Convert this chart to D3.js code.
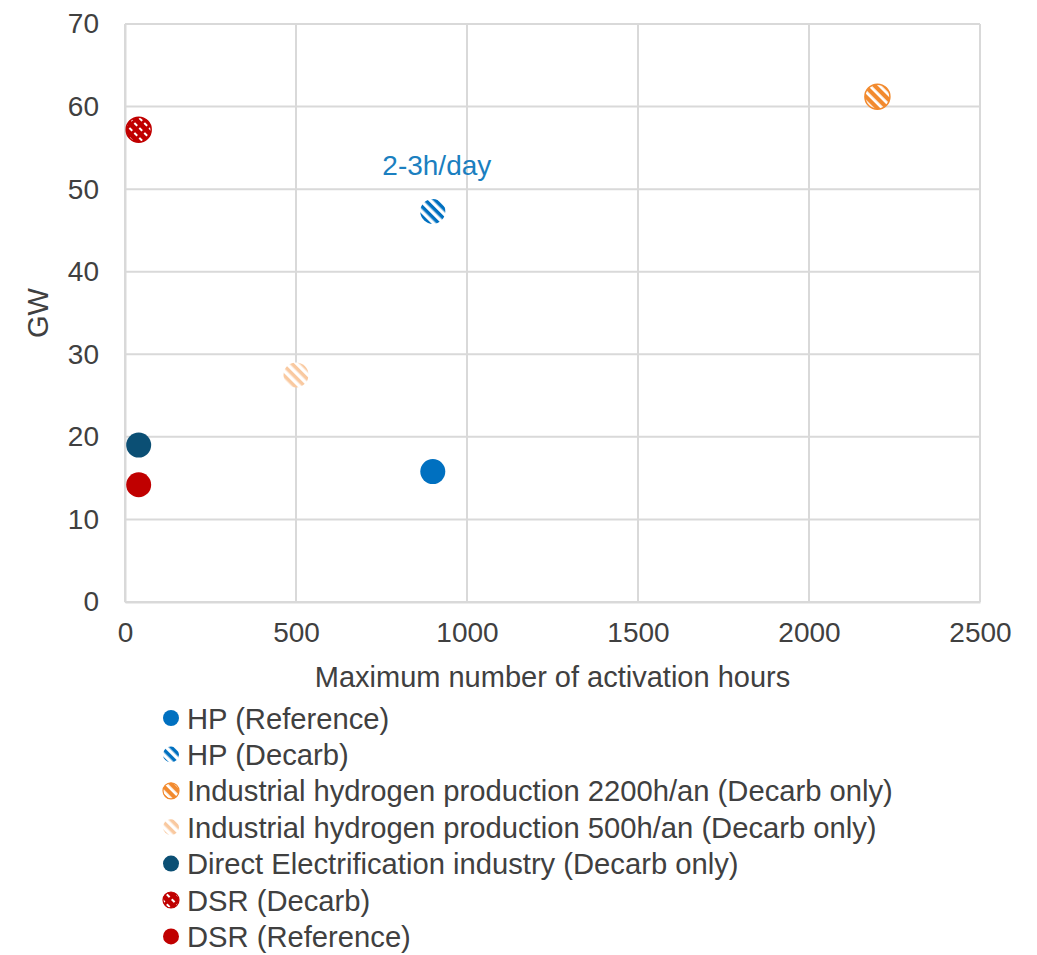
<!DOCTYPE html>
<html><head><meta charset="utf-8">
<script src="https://cdn.jsdelivr.net/npm/d3@7"></script>
<style>body{margin:0;background:#fff;} text{font-family:"Liberation Sans",Arial,sans-serif;}</style>
</head><body>
<svg id="chart" width="1037" height="955"></svg>
<script>
const seriesNames = ["HP (Reference)","HP (Decarb)","Industrial hydrogen production 2200h/an (Decarb only)","Industrial hydrogen production 500h/an (Decarb only)","Direct Electrification industry (Decarb only)","DSR (Decarb)","DSR (Reference)"];
const seriesHours = [900, 900, 2200, 500, 40, 40, 40];
const seriesGW = [15.8, 47.3, 61.2, 27.5, 19.0, 57.2, 14.2];
const seriesColors = ["#0070C0","#0070C0","#F28A2E","#F9C9A0","#0B4F74","#C00000","#C00000"];
const seriesPattern = ["solid","stripe","zig","stripe","solid","dash","solid"];
const xTicks = [0,500,1000,1500,2000,2500];
const yTicks = [0,10,20,30,40,50,60,70];
const annotation = {text:"2-3h/day", x:900, y:52.6};

const svg = d3.select("#chart");
const m = {l:125, r:980, t:24, b:602};
const x = d3.scaleLinear().domain([0,2500]).range([m.l,m.r]);
const y = d3.scaleLinear().domain([0,70]).range([m.b,m.t]);
const txt = "#404040";

// patterns
const defs = svg.append("defs");
seriesPattern.forEach((p,i)=>{
  if(p==="solid") return;
  const c = seriesColors[i];
  const pat = defs.append("pattern").attr("id","pat"+i).attr("patternUnits","userSpaceOnUse")
    .attr("width",7).attr("height",7).attr("patternTransform","rotate(-45)");
  pat.append("rect").attr("width",7).attr("height",7).attr("fill",c);
  if(p==="stripe"){
    pat.append("rect").attr("x",0).attr("width",3.5).attr("height",7).attr("fill","#fff");
  } else if(p==="zig"){
    pat.append("rect").attr("x",0).attr("width",2.8).attr("height",7).attr("fill","#fff");
  } else if(p==="dash"){
    pat.append("rect").attr("x",0).attr("y",0).attr("width",2).attr("height",4).attr("fill","#fff");
  }
});
const fillOf = i => seriesPattern[i]==="solid" ? seriesColors[i] : `url(#pat${i})`;
const strokeOf = i => (seriesPattern[i]==="zig"||seriesPattern[i]==="dash") ? seriesColors[i] : "none";

// grid
svg.append("g").selectAll("line.h").data(yTicks).join("line")
  .attr("x1",m.l).attr("x2",m.r).attr("y1",d=>y(d)).attr("y2",d=>y(d))
  .attr("stroke","#d9d9d9").attr("stroke-width",2);
svg.append("g").selectAll("line.v").data(xTicks).join("line")
  .attr("y1",m.t).attr("y2",m.b).attr("x1",d=>x(d)).attr("x2",d=>x(d))
  .attr("stroke","#d9d9d9").attr("stroke-width",2);

// axes
const xa = svg.append("g").attr("transform",`translate(0,${m.b})`)
  .call(d3.axisBottom(x).tickValues(xTicks).tickFormat(d3.format("d")).tickSize(0).tickPadding(20));
const ya = svg.append("g").attr("transform",`translate(${m.l},0)`)
  .call(d3.axisLeft(y).tickValues(yTicks).tickFormat(d3.format("d")).tickSize(0).tickPadding(26));
[xa,ya].forEach(a=>{
  a.select(".domain").attr("stroke","#d9d9d9").attr("stroke-width",2);
  a.selectAll("text").attr("fill",txt).style("font-size","28px").style("font-family","Liberation Sans, Arial, sans-serif");
});

// axis titles
svg.append("text").attr("x",(m.l+m.r)/2).attr("y",687).attr("text-anchor","middle")
  .attr("fill",txt).style("font-size","29px").text("Maximum number of activation hours");
svg.append("text").attr("transform",`translate(48,${(m.t+m.b)/2}) rotate(-90)`).attr("text-anchor","middle")
  .attr("fill",txt).style("font-size","29px").text("GW");

// points
const idx = d3.range(seriesNames.length);
svg.append("g").selectAll("circle").data(idx).join("circle")
  .attr("cx",i=>x(seriesHours[i])).attr("cy",i=>y(seriesGW[i])).attr("r",12.5)
  .attr("fill",fillOf).attr("stroke",strokeOf).attr("stroke-width",1.5);

// annotation
svg.append("text").attr("x",x(annotation.x)+4).attr("y",y(annotation.y)+7).attr("text-anchor","middle")
  .attr("fill","#1B7FC0").style("font-size","28px").text(annotation.text);

// legend
const lg = svg.append("g");
const rows = lg.selectAll("g").data(idx).join("g")
  .attr("transform",i=>`translate(171,${718+i*36.4})`);
rows.append("circle").attr("r",8).attr("fill",fillOf).attr("stroke",strokeOf).attr("stroke-width",1.2);
rows.append("text").attr("x",16).attr("dy","0.36em").attr("fill",txt).style("font-size","29.2px")
  .text(i=>seriesNames[i]);
</script>
</body></html>
